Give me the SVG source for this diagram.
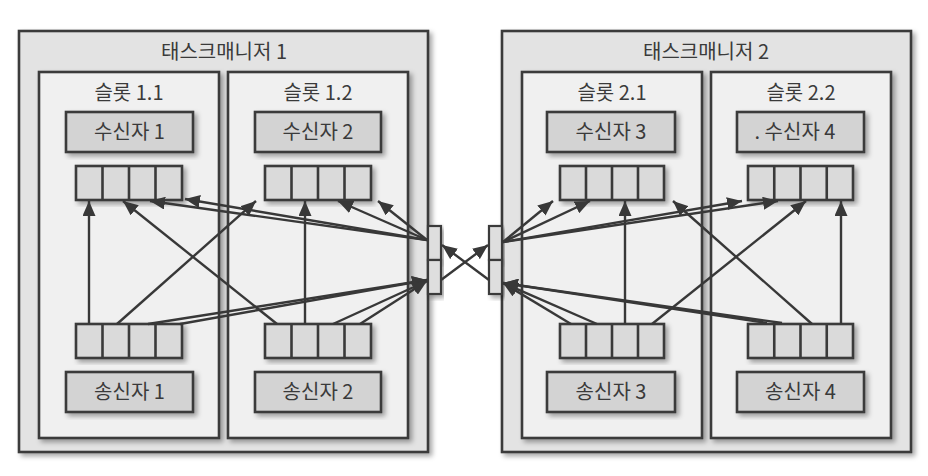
<svg xmlns="http://www.w3.org/2000/svg" width="928" height="476" viewBox="0 0 928 476">
<defs>
<filter id="sh" x="-10%" y="-10%" width="130%" height="130%">
<feDropShadow dx="3" dy="3" stdDeviation="2.5" flood-color="#000" flood-opacity="0.35"/>
</filter>
<marker id="ah" markerUnits="userSpaceOnUse" markerWidth="15" markerHeight="13" refX="15" refY="6.5" orient="auto" viewBox="0 0 15 13">
<path d="M0,0 L15,6.5 L0,13 z" fill="#383838"/>
</marker>
</defs>
<style>
.tm{fill:#e3e3e3;stroke:#3a3a3a;stroke-width:2.6;filter:url(#sh)}
.slot{fill:#f0f0f0;stroke:#3a3a3a;stroke-width:2.6;filter:url(#sh)}
.op{fill:#d3d3d3;stroke:#3a3a3a;stroke-width:2.6;filter:url(#sh)}
.buf{fill:#dadada;stroke:#3a3a3a;stroke-width:2.6;filter:url(#sh)}
.cell{fill:none;stroke:#3a3a3a;stroke-width:2.6}
.net{fill:#dedede;stroke:#3a3a3a;stroke-width:2.2;filter:url(#sh)}
text{font-family:"Noto Sans CJK KR","Noto Sans",sans-serif;font-size:20px;fill:#3a3a3a;text-anchor:middle}
.c line{stroke:#383838;stroke-width:2.4;fill:none}
.c line.a{marker-end:url(#ah)}
</style>
<rect width="928" height="476" fill="#ffffff"/>

<g id="taskmanager1">
<rect class="tm" x="19" y="31" width="409" height="421"/>
<text x="224" y="59">태스크매니저 1</text>
</g>
<g id="taskmanager2">
<rect class="tm" x="502" y="31" width="409" height="421"/>
<text x="706" y="59">태스크매니저 2</text>
</g>

<g id="slot11">
<rect class="slot" x="39" y="72" width="180" height="366"/>
<text x="129" y="100">슬롯 1.1</text>
</g>
<g id="slot12">
<rect class="slot" x="228" y="72" width="180" height="366"/>
<text x="318" y="100">슬롯 1.2</text>
</g>
<g id="slot21">
<rect class="slot" x="522" y="72" width="180" height="366"/>
<text x="612" y="100">슬롯 2.1</text>
</g>
<g id="slot22">
<rect class="slot" x="711" y="72" width="180" height="366"/>
<text x="801" y="100">슬롯 2.2</text>
</g>

<g id="receiver1">
<rect class="op" x="66" y="112" width="127" height="40"/>
<text x="129.5" y="139">수신자 1</text>
</g>
<g id="receiver2">
<rect class="op" x="255" y="112" width="126" height="40"/>
<text x="318" y="139">수신자 2</text>
</g>
<g id="receiver3">
<rect class="op" x="547" y="112" width="128" height="40"/>
<text x="611" y="139">수신자 3</text>
</g>
<g id="receiver4">
<rect class="op" x="737" y="112" width="127" height="40"/>
<text x="795" y="139">. 수신자 4</text>
</g>

<g id="sender1">
<rect class="op" x="66" y="372" width="127" height="40"/>
<text x="129.5" y="399">송신자 1</text>
</g>
<g id="sender2">
<rect class="op" x="255" y="372" width="126" height="40"/>
<text x="318" y="399">송신자 2</text>
</g>
<g id="sender3">
<rect class="op" x="547" y="372" width="128" height="40"/>
<text x="611" y="399">송신자 3</text>
</g>
<g id="sender4">
<rect class="op" x="737" y="372" width="127" height="40"/>
<text x="800.5" y="399">송신자 4</text>
</g>

<g id="inbuf1">
<rect class="buf" x="76" y="166" width="106" height="34"/>
<path class="cell" d="M102.5,166v34M129,166v34M155.5,166v34"/>
</g>
<g id="inbuf2">
<rect class="buf" x="265" y="166" width="106" height="34"/>
<path class="cell" d="M291.5,166v34M318,166v34M344.5,166v34"/>
</g>
<g id="inbuf3">
<rect class="buf" x="560" y="166" width="104" height="34"/>
<path class="cell" d="M586,166v34M612,166v34M638,166v34"/>
</g>
<g id="inbuf4">
<rect class="buf" x="748" y="166" width="105" height="34"/>
<path class="cell" d="M774.25,166v34M800.5,166v34M826.75,166v34"/>
</g>

<g id="outbuf1">
<rect class="buf" x="76" y="324" width="106" height="34"/>
<path class="cell" d="M102.5,324v34M129,324v34M155.5,324v34"/>
</g>
<g id="outbuf2">
<rect class="buf" x="265" y="324" width="106" height="34"/>
<path class="cell" d="M291.5,324v34M318,324v34M344.5,324v34"/>
</g>
<g id="outbuf3">
<rect class="buf" x="560" y="324" width="104" height="34"/>
<path class="cell" d="M586,324v34M612,324v34M638,324v34"/>
</g>
<g id="outbuf4">
<rect class="buf" x="748" y="324" width="105" height="34"/>
<path class="cell" d="M774.25,324v34M800.5,324v34M826.75,324v34"/>
</g>

<g id="network1">
<rect class="net" x="428" y="226" width="13" height="34"/>
<rect class="net" x="428" y="260" width="13" height="34"/>
</g>
<g id="network2">
<rect class="net" x="489" y="226" width="13" height="34"/>
<rect class="net" x="489" y="260" width="13" height="34"/>
</g>

<g id="connectors" class="c">
<line class="a" x1="89" y1="324" x2="89" y2="201"/>
<line class="a" x1="277" y1="324" x2="123" y2="201"/>
<line class="a" x1="427" y1="240" x2="150" y2="201"/>
<line class="a" x1="427" y1="240" x2="185" y2="199"/>
<line class="a" x1="117" y1="324" x2="256" y2="201"/>
<line class="a" x1="305" y1="324" x2="305" y2="201"/>
<line class="a" x1="427" y1="240" x2="338" y2="201"/>
<line class="a" x1="427" y1="240" x2="378" y2="201"/>
<line class="a" x1="148" y1="324" x2="427" y2="280"/>
<line class="a" x1="180" y1="324" x2="427" y2="280"/>
<line class="a" x1="333" y1="324" x2="427" y2="281"/>
<line class="a" x1="360" y1="324" x2="427" y2="281"/>

<line class="a" x1="441" y1="280" x2="488" y2="245"/>
<line class="a" x1="489" y1="280" x2="442" y2="245"/>

<line class="a" x1="503" y1="242" x2="553" y2="201"/>
<line class="a" x1="503" y1="242" x2="590" y2="201"/>
<line class="a" x1="625" y1="324" x2="625" y2="201"/>
<line class="a" x1="812" y1="324" x2="673" y2="201"/>
<line class="a" x1="503" y1="242" x2="742" y2="201"/>
<line class="a" x1="503" y1="242" x2="778" y2="201"/>
<line class="a" x1="652" y1="324" x2="806" y2="201"/>
<line class="a" x1="841" y1="324" x2="841" y2="201"/>
<line class="a" x1="571" y1="324" x2="503" y2="283"/>
<line class="a" x1="597" y1="324" x2="503" y2="283"/>
<line class="a" x1="767" y1="323" x2="503" y2="283"/>
<line class="a" x1="782" y1="323" x2="503" y2="283"/>
</g>
</svg>
